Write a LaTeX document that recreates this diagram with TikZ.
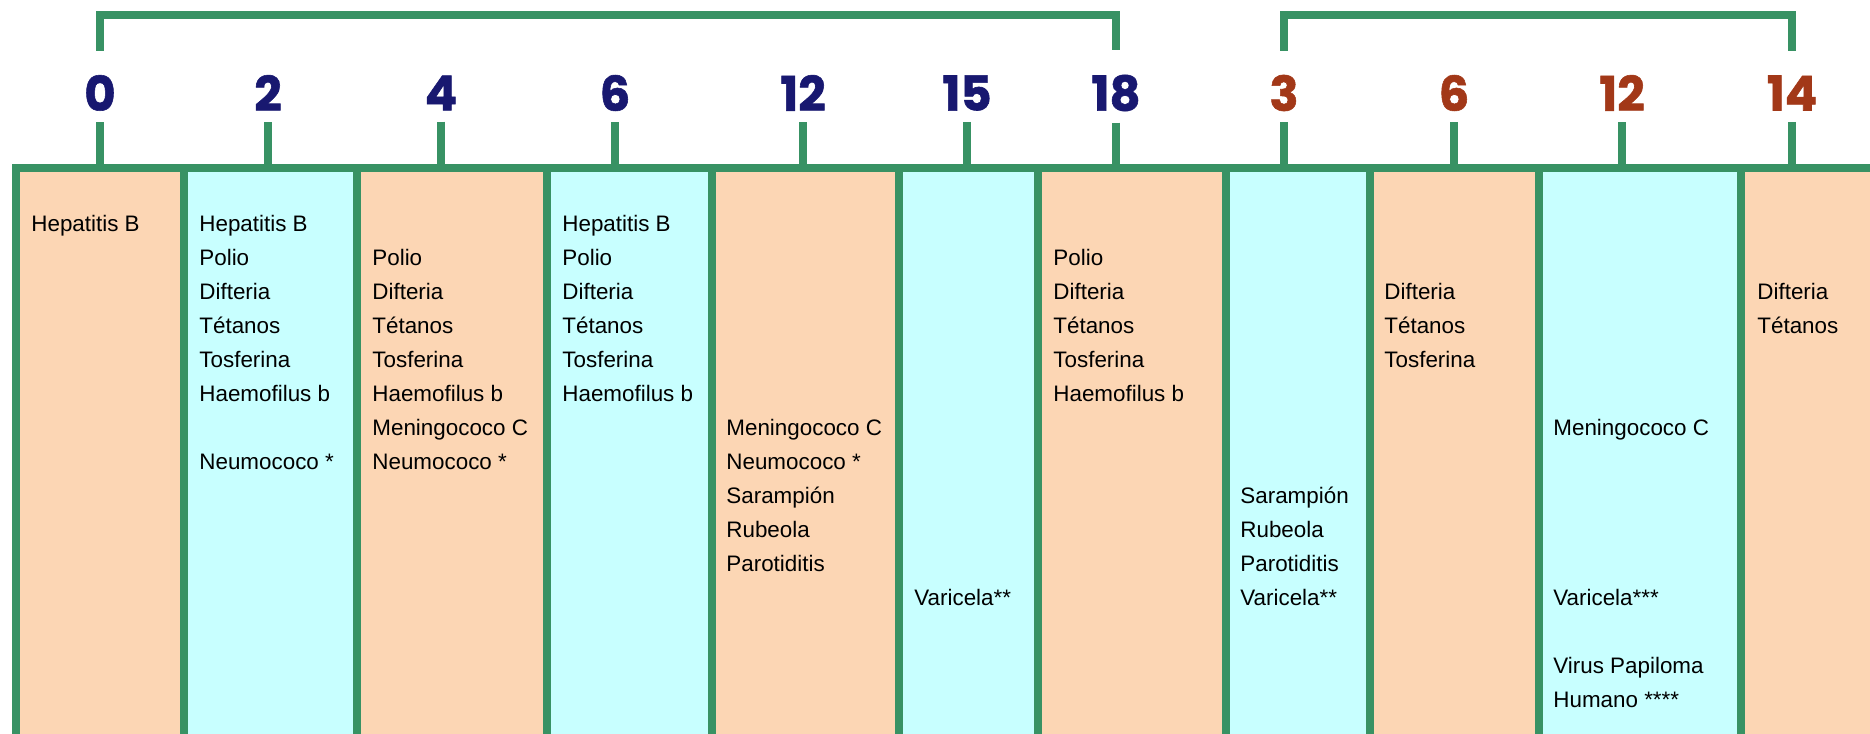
\documentclass[tikz,border=0pt]{standalone}
\usepackage{fontspec}
\setmainfont{Liberation Sans}
\newfontfamily\agefont[BoldFeatures={FakeBold=1.2}]{Poppins}
\definecolor{peach}{RGB}{252,214,180}
\definecolor{skyfill}{RGB}{200,255,255}
\definecolor{railgreen}{RGB}{56,146,100}
\definecolor{navy}{RGB}{24,24,112}
\definecolor{rust}{RGB}{162,56,24}
\tikzset{
  bar/.style={draw=railgreen,line width=3.7pt},
  colbox/.style={bar,inner sep=0pt,outer sep=0pt,anchor=north west},
  age/.style={font=\agefont\bfseries\fontsize{24}{24}\selectfont,inner sep=0pt},
  vac/.style={font=\fontsize{11.2}{13}\selectfont,anchor=base west,inner sep=0pt}
}
\begin{document}
\begin{tikzpicture}[x=0.5pt,y=-0.5pt]
\useasboundingbox (0,0) rectangle (1870,734);
\clip (0,0) rectangle (1870,734);
\coordinate (rail) at (0,15);
\coordinate (top) at (0,168);
% columns
\foreach \i/\l/\r/\c in {1/16/184/peach,2/184/357/skyfill,3/357/547/peach,4/547/712/skyfill,
  5/712/899/peach,6/899/1038/skyfill,7/1038/1226/peach,8/1226/1370/skyfill,
  9/1370/1539/peach,10/1539/1741/skyfill,11/1741/1990/peach}{
  \pgfmathsetmacro{\w}{(\r-\l)*0.5}
  \node[colbox,fill=\c,minimum width=\w pt,minimum height=300pt] (col\i) at (\l,168) {};
}
% ages
\foreach \k/\x/\t/\c in {0/100/0/navy,1/268/2/navy,2/441/4/navy,3/615/6/navy,4/803/12/navy,
  5/967/15/navy,6/1116/18/navy,7/1284/3/rust,8/1454/6/rust,9/1622/12/rust,10/1792/14/rust}{
  \node[age,text=\c] (n\k) at (\x,93) {\t};
  \draw[bar] ([yshift=-5.5pt]n\k.south) -- (n\k |- top);
}
% brackets
\draw[bar] ([yshift=12pt]n0.north) -- (n0 |- rail) -| ([yshift=12pt]n6.north);
\draw[bar] ([yshift=12pt]n7.north) -- (n7 |- rail) -| ([yshift=12pt]n10.north);
% vaccines
\foreach \s/\t in {0/Hepatitis B}
  \node[vac] (a\s) at (31,{231+34*\s}) {\t};
\foreach \s/\t in {0/Hepatitis B,1/Polio,2/Difteria,3/Tétanos,4/Tosferina,5/Haemofilus b,7/Neumococo *}
  \node[vac] (b\s) at (199,{231+34*\s}) {\t};
\foreach \s/\t in {1/Polio,2/Difteria,3/Tétanos,4/Tosferina,5/Haemofilus b,6/Meningococo C,7/Neumococo *}
  \node[vac] (c\s) at (372,{231+34*\s}) {\t};
\foreach \s/\t in {0/Hepatitis B,1/Polio,2/Difteria,3/Tétanos,4/Tosferina,5/Haemofilus b}
  \node[vac] (d\s) at (562,{231+34*\s}) {\t};
\foreach \s/\t in {6/Meningococo C,7/Neumococo *,8/Sarampión,9/Rubeola,10/Parotiditis}
  \node[vac] (e\s) at (726,{231+34*\s}) {\t};
\foreach \s/\t in {11/Varicela**}
  \node[vac] (f\s) at (914,{231+34*\s}) {\t};
\foreach \s/\t in {1/Polio,2/Difteria,3/Tétanos,4/Tosferina,5/Haemofilus b}
  \node[vac] (g\s) at (1053,{231+34*\s}) {\t};
\foreach \s/\t in {8/Sarampión,9/Rubeola,10/Parotiditis,11/Varicela**}
  \node[vac] (h\s) at (1240,{231+34*\s}) {\t};
\foreach \s/\t in {2/Difteria,3/Tétanos,4/Tosferina}
  \node[vac] (i\s) at (1384,{231+34*\s}) {\t};
\foreach \s/\t in {6/Meningococo C,11/Varicela***,13/Virus Papiloma,14/Humano ****}
  \node[vac] (j\s) at (1553,{231+34*\s}) {\t};
\foreach \s/\t in {2/Difteria,3/Tétanos}
  \node[vac] (k\s) at (1757,{231+34*\s}) {\t};
\end{tikzpicture}
\end{document}
